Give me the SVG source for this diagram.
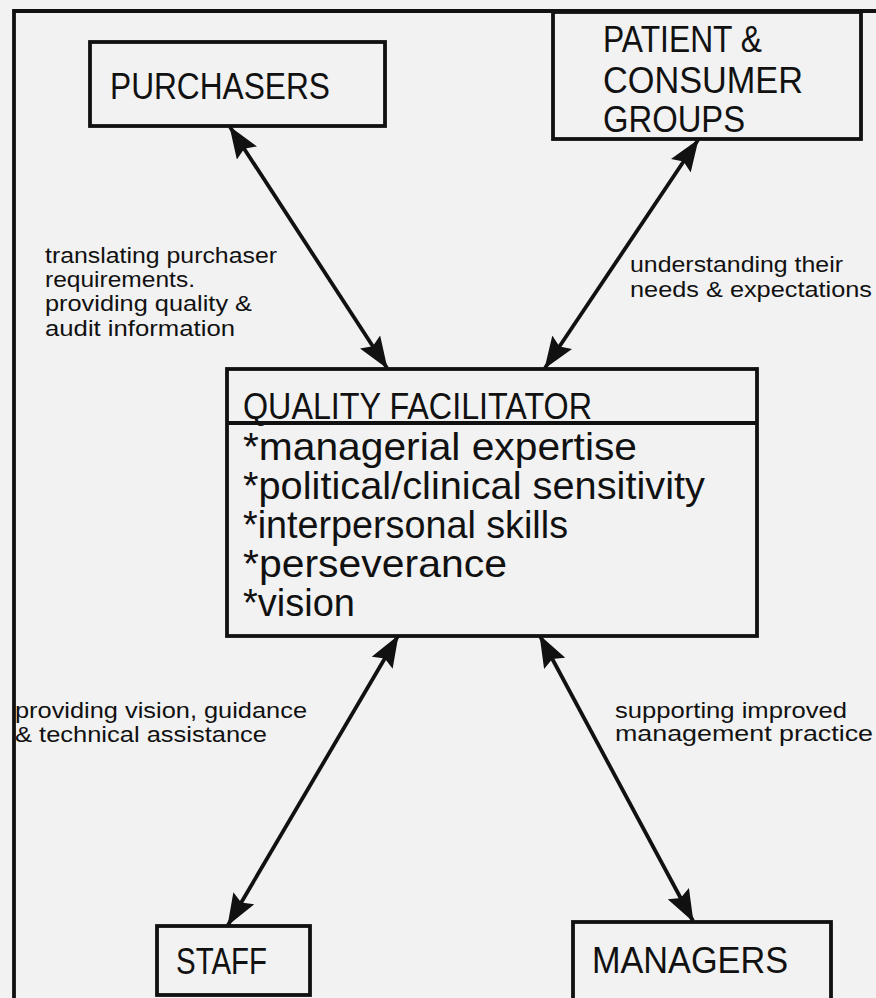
<svg xmlns="http://www.w3.org/2000/svg" width="876" height="998" viewBox="0 0 876 998">
  <style>
    .box { fill: none; stroke: #111; stroke-width: 3.8; }
    .frame { fill: none; stroke: #111; stroke-width: 3.8; }
    .node { font-family: "Liberation Sans", Arial, sans-serif; font-size: 36px; fill: #111; }
    .item { font-family: "Liberation Sans", Arial, sans-serif; font-size: 39px; fill: #111; }
    .lbl { font-family: "Liberation Sans", Arial, sans-serif; font-size: 22px; fill: #111; }
    .conn { stroke: #111; stroke-width: 3.8; fill: none; marker-start: url(#head); marker-end: url(#head); }
  </style>
  <defs>
    <marker id="head" viewBox="0 0 32 24" refX="31" refY="12" markerWidth="32" markerHeight="24" markerUnits="userSpaceOnUse" orient="auto-start-reverse">
      <path d="M0,0 L32,12 L0,24 L5,12 z" fill="#111"/>
    </marker>
  </defs>

  <!-- page -->
  <rect x="0" y="0" width="876" height="998" fill="#f2f2f2"/>

  <!-- outer frame (top and left edges visible) -->
  <path class="frame" d="M14,1000 L14,11 L880,11"/>

  <!-- connectors -->
  <g id="connectors">
    <line class="conn" x1="230" y1="127" x2="387" y2="368"/>
    <line class="conn" x1="698" y1="140" x2="545" y2="368"/>
    <line class="conn" x1="398" y1="636" x2="228" y2="925"/>
    <line class="conn" x1="540" y1="636" x2="693" y2="921"/>
  </g>

  <!-- edge labels -->
  <g id="labels">
    <text class="lbl" x="45" y="263" textLength="232" lengthAdjust="spacingAndGlyphs">translating purchaser</text>
    <text class="lbl" x="45" y="287" textLength="150" lengthAdjust="spacingAndGlyphs">requirements.</text>
    <text class="lbl" x="45" y="311" textLength="207" lengthAdjust="spacingAndGlyphs">providing quality &amp;</text>
    <text class="lbl" x="45" y="336" textLength="190" lengthAdjust="spacingAndGlyphs">audit information</text>

    <text class="lbl" x="630" y="272" textLength="213" lengthAdjust="spacingAndGlyphs">understanding their</text>
    <text class="lbl" x="630" y="297" textLength="242" lengthAdjust="spacingAndGlyphs">needs &amp; expectations</text>

    <text class="lbl" x="15" y="718" textLength="292" lengthAdjust="spacingAndGlyphs">providing vision, guidance</text>
    <text class="lbl" x="15" y="742" textLength="252" lengthAdjust="spacingAndGlyphs">&amp; technical assistance</text>

    <text class="lbl" x="615" y="718" textLength="232" lengthAdjust="spacingAndGlyphs">supporting improved</text>
    <text class="lbl" x="615" y="741" textLength="258" lengthAdjust="spacingAndGlyphs">management practice</text>
  </g>

  <!-- nodes -->
  <g id="purchasers">
    <rect class="box" x="90" y="42" width="295" height="84"/>
    <text class="node" x="110" y="99" textLength="220" lengthAdjust="spacingAndGlyphs">PURCHASERS</text>
  </g>

  <g id="patient-consumer-groups">
    <rect class="box" x="553" y="12" width="308" height="127"/>
    <text class="node" x="603" y="52" textLength="159" lengthAdjust="spacingAndGlyphs">PATIENT &amp;</text>
    <text class="node" x="603" y="93" textLength="200" lengthAdjust="spacingAndGlyphs">CONSUMER</text>
    <text class="node" x="603" y="132" textLength="142" lengthAdjust="spacingAndGlyphs">GROUPS</text>
  </g>

  <g id="quality-facilitator">
    <rect class="box" x="227" y="369" width="530" height="267"/>
    <line class="box" x1="227" y1="423" x2="757" y2="423"/>
    <text class="node" x="243" y="419" textLength="349" lengthAdjust="spacingAndGlyphs">QUALITY FACILITATOR</text>
    <text class="item" x="243" y="460" textLength="394" lengthAdjust="spacingAndGlyphs">*managerial expertise</text>
    <text class="item" x="243" y="499" textLength="462" lengthAdjust="spacingAndGlyphs">*political/clinical sensitivity</text>
    <text class="item" x="243" y="538" textLength="325" lengthAdjust="spacingAndGlyphs">*interpersonal skills</text>
    <text class="item" x="243" y="577" textLength="264" lengthAdjust="spacingAndGlyphs">*perseverance</text>
    <text class="item" x="243" y="616" textLength="112" lengthAdjust="spacingAndGlyphs">*vision</text>
  </g>

  <g id="staff">
    <rect class="box" x="157" y="926" width="153" height="69"/>
    <text class="node" x="176" y="974" textLength="91" lengthAdjust="spacingAndGlyphs">STAFF</text>
  </g>

  <g id="managers">
    <rect class="box" x="573" y="922" width="258" height="80"/>
    <text class="node" x="592" y="973" textLength="196" lengthAdjust="spacingAndGlyphs">MANAGERS</text>
  </g>
</svg>
